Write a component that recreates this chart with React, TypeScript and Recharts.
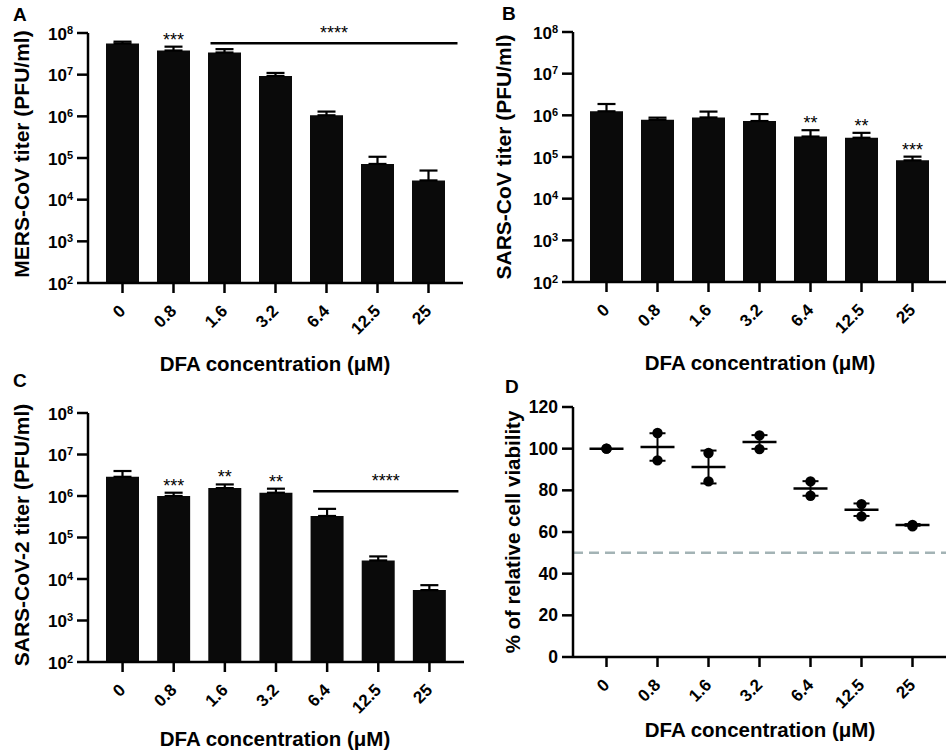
import React from 'react';
import { ComposedChart, Bar, XAxis, YAxis, ErrorBar, Scatter, ReferenceLine } from 'recharts';

const categories = ['0', '0.8', '1.6', '3.2', '6.4', '12.5', '25'];

const mersMean = [5.6e7, 3.8e7, 3.4e7, 9.3e6, 1.06e6, 7.2e4, 2.9e4];
const mersUpper = [6.2e7, 4.7e7, 4.1e7, 1.1e7, 1.3e6, 1.07e5, 5.0e4];
const mersSig = ['', '***', '', '', '', '', ''];

const sarsMean = [1.25e6, 7.8e5, 8.9e5, 7.3e5, 3.1e5, 2.9e5, 8.3e4];
const sarsUpper = [1.87e6, 8.8e5, 1.23e6, 1.07e6, 4.4e5, 3.8e5, 1.02e5];
const sarsSig = ['', '', '', '', '**', '**', '***'];

const sars2Mean = [2.9e6, 1.0e6, 1.55e6, 1.2e6, 3.3e5, 2.8e4, 5.4e3];
const sars2Upper = [4.0e6, 1.2e6, 1.9e6, 1.5e6, 4.9e5, 3.5e4, 7.1e3];
const sars2Sig = ['', '***', '**', '**', '', '', ''];

const viabRep1 = [100, 107.5, 97.9, 106.4, 84.3, 73.4, 63.4];
const viabRep2 = [100, 94.4, 84.3, 99.8, 77.4, 67.5, 62.7];
const viabMean = [100, 100.8, 91.2, 103.2, 80.9, 70.7, 63.4];
const viabSem = [0, 6.6, 7.9, 3.3, 3.5, 3.0, 0.4];

const logTicks = [1e2, 1e3, 1e4, 1e5, 1e6, 1e7, 1e8];
const logTickExponents = ['2', '3', '4', '5', '6', '7', '8'];
const viabTicks = [0, 20, 40, 60, 80, 100, 120];

const mersBracket = { from: '1.6', to: '25', y: 5.66e7, label: '****' };
const sars2Bracket = { from: '6.4', to: '25', y: 1.31e6, label: '****' };

const FONT = '"Liberation Sans", Arial, Helvetica, sans-serif';
const AXIS = { stroke: '#000', strokeWidth: 2.5 };

const LogTick = (props: any) => {
  const { x, y, payload } = props;
  const idx = logTicks.indexOf(payload.value);
  return (
    <text x={x} y={y + 6.5} textAnchor="end" fontSize={17} fontWeight="bold" fill="#000" fontFamily={FONT}>
      <tspan>10</tspan>
      <tspan dy={-6} fontSize={11}>{logTickExponents[idx]}</tspan>
    </text>
  );
};

const LinTick = (props: any) => {
  const { x, y, payload } = props;
  return (
    <text x={x} y={y + 6} textAnchor="end" fontSize={17.5} fontWeight="bold" fill="#000" fontFamily={FONT}>
      {payload.value}
    </text>
  );
};

const AngleTick = (props: any) => {
  const { x, y, payload } = props;
  const ax = x + 4;
  const ay = y + 19;
  return (
    <text x={ax} y={ay} transform={`rotate(-45 ${ax} ${ay})`} textAnchor="end" fontSize={17} fontWeight="bold" fill="#000" fontFamily={FONT}>
      {payload.value}
    </text>
  );
};

const StarShape = (props: any) => {
  const { cx, cy, payload } = props;
  if (!payload || !payload.sig) return <g />;
  return (
    <text x={cx} y={cy - 1} textAnchor="middle" fontSize={18} fill="#000" fontFamily={FONT}>
      {payload.sig}
    </text>
  );
};

const bracketShape = (label: string) => (p: any) => {
  const { x1, y1, x2 } = p;
  const s = x1 - 14;
  const e = x2 + 29;
  return (
    <g>
      <line x1={s} x2={e} y1={y1} y2={y1} stroke="#000" strokeWidth={2.5} />
      <text x={(s + e) / 2} y={y1 - 4} textAnchor="middle" fontSize={18} fill="#000" fontFamily={FONT}>
        {label}
      </text>
    </g>
  );
};

type PanelProps = {
  mean: number[];
  upper: number[];
  sig: string[];
  bracket?: { from: string; to: string; y: number; label: string };
  width: number;
  height: number;
  top: number;
  right: number;
  yWidth: number;
  xHeight: number;
  pad: number;
};

const TiterPanel = ({ mean, upper, sig, bracket, width, height, top, right, yWidth, xHeight, pad }: PanelProps) => {
  const data = categories.map((c, i) => ({
    conc: c,
    value: mean[i],
    err: [0, upper[i] - mean[i]],
    upper: upper[i],
    sig: sig[i],
  }));
  return (
    <ComposedChart width={width} height={height} data={data} margin={{ top, right, bottom: 0, left: 0 }}>
      <XAxis
        dataKey="conc"
        type="category"
        height={xHeight}
        padding={{ left: pad, right: pad }}
        axisLine={AXIS}
        tickLine={AXIS}
        tickSize={10}
        tickMargin={0}
        tick={<AngleTick />}
        interval={0}
      />
      <YAxis
        scale="log"
        type="number"
        domain={[1e2, 1e8]}
        ticks={logTicks}
        width={yWidth}
        axisLine={AXIS}
        tickLine={AXIS}
        tickSize={11}
        tickMargin={4}
        tick={<LogTick />}
        interval={0}
      />
      <Bar dataKey="value" barSize={33} fill="#0a0a0a" isAnimationActive={false}>
        <ErrorBar dataKey="err" direction="y" width={9} stroke="#000" strokeWidth={2.2} />
      </Bar>
      <Scatter dataKey="upper" isAnimationActive={false} shape={<StarShape />} />
      {bracket && (
        <ReferenceLine
          segment={[{ x: bracket.from, y: bracket.y }, { x: bracket.to, y: bracket.y }]}
          ifOverflow="visible"
          shape={bracketShape(bracket.label)}
        />
      )}
    </ComposedChart>
  );
};

const DotShape = (props: any) => <circle cx={props.cx} cy={props.cy} r={5.2} fill="#000" />;
const MeanShape = (props: any) => (
  <line x1={props.cx - 17} x2={props.cx + 17} y1={props.cy} y2={props.cy} stroke="#000" strokeWidth={2.5} />
);

const ViabilityPanel = () => {
  const data = categories.map((c, i) => ({
    conc: c,
    r1: viabRep1[i],
    r2: viabRep2[i],
    mean: viabMean[i],
    sem: viabSem[i],
  }));
  return (
    <ComposedChart width={476} height={385} data={data} margin={{ top: 37, right: 0, bottom: 0, left: 0 }}>
      <XAxis
        dataKey="conc"
        type="category"
        height={98}
        padding={{ left: 33.5, right: 33.5 }}
        axisLine={AXIS}
        tickLine={AXIS}
        tickSize={10}
        tickMargin={0}
        tick={<AngleTick />}
        interval={0}
      />
      <YAxis
        type="number"
        domain={[0, 120]}
        ticks={viabTicks}
        width={103}
        axisLine={AXIS}
        tickLine={AXIS}
        tickSize={11}
        tickMargin={4}
        tick={<LinTick />}
        interval={0}
      />
      <ReferenceLine y={50} stroke="#a3b3b5" strokeWidth={2.5} strokeDasharray="10 6" />
      <Scatter dataKey="r1" isAnimationActive={false} shape={<DotShape />} />
      <Scatter dataKey="r2" isAnimationActive={false} shape={<DotShape />} />
      <Scatter dataKey="mean" isAnimationActive={false} shape={<MeanShape />}>
        <ErrorBar dataKey="sem" direction="y" width={8} stroke="#000" strokeWidth={2} />
      </Scatter>
    </ComposedChart>
  );
};

const T = { fontFamily: FONT, fontWeight: 'bold' as const, fill: '#000' };

export default function App() {
  return (
    <div style={{ position: 'absolute', left: 0, top: 0, width: 946, height: 755, background: '#fff', fontFamily: FONT }}>
      <div style={{ position: 'absolute', left: 0, top: 0 }}>
        <TiterPanel mean={mersMean} upper={mersUpper} sig={mersSig} bracket={mersBracket}
          width={470} height={370} top={33} right={7} yWidth={88} xHeight={87} pad={9} />
      </div>
      <div style={{ position: 'absolute', left: 470, top: 0 }}>
        <TiterPanel mean={sarsMean} upper={sarsUpper} sig={sarsSig}
          width={476} height={370} top={32} right={0} yWidth={103} xHeight={88} pad={8} />
      </div>
      <div style={{ position: 'absolute', left: 0, top: 370 }}>
        <TiterPanel mean={sars2Mean} upper={sars2Upper} sig={sars2Sig} bracket={sars2Bracket}
          width={470} height={385} top={43} right={6} yWidth={88} xHeight={93} pad={9} />
      </div>
      <div style={{ position: 'absolute', left: 470, top: 370 }}>
        <ViabilityPanel />
      </div>
      <svg width={946} height={755} style={{ position: 'absolute', left: 0, top: 0, pointerEvents: 'none' }}>
        <text x={13} y={21} fontSize={19} {...T}>A</text>
        <text x={502} y={20} fontSize={19} {...T}>B</text>
        <text x={13} y={387} fontSize={19} {...T}>C</text>
        <text x={505} y={393} fontSize={19} {...T}>D</text>

        <text x={275} y={371} fontSize={20.5} textAnchor="middle" {...T}>DFA concentration (μM)</text>
        <text x={760} y={370} fontSize={20.5} textAnchor="middle" {...T}>DFA concentration (μM)</text>
        <text x={275} y={746} fontSize={20.5} textAnchor="middle" {...T}>DFA concentration (μM)</text>
        <text x={760} y={737} fontSize={20.5} textAnchor="middle" {...T}>DFA concentration (μM)</text>

        <text transform="translate(28.5 154) rotate(-90)" fontSize={21} textAnchor="middle" {...T}>MERS-CoV titer (PFU/ml)</text>
        <text transform="translate(511 157) rotate(-90)" fontSize={21} textAnchor="middle" {...T}>SARS-CoV titer (PFU/ml)</text>
        <text transform="translate(28.5 535) rotate(-90)" fontSize={21} textAnchor="middle" {...T}>SARS-CoV-2 titer (PFU/ml)</text>
        <text transform="translate(520 532) rotate(-90)" fontSize={20.5} textAnchor="middle" {...T}>% of relative cell viability</text>
      </svg>
    </div>
  );
}
